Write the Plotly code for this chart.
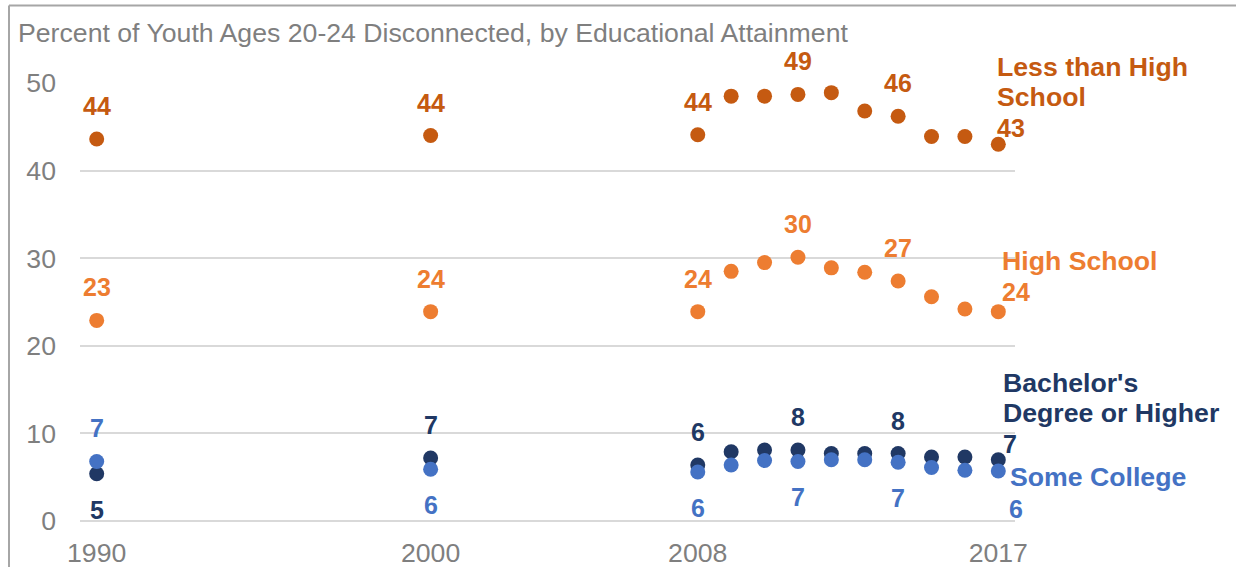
import plotly.graph_objects as go

# ---------------- data ----------------
years = [1990, 2000, 2008, 2009, 2010, 2011, 2012, 2013, 2014, 2015, 2016, 2017]

series_names = ["Less than High School", "High School",
                "Bachelor's Degree or Higher", "Some College"]

less_than_hs = [43.6, 44.0, 44.1, 48.5, 48.5, 48.7, 48.9, 46.8, 46.2, 43.9, 43.9, 43.0]
high_school = [22.9, 23.9, 23.9, 28.5, 29.5, 30.1, 28.9, 28.4, 27.4, 25.6, 24.2, 23.9]
bachelors = [5.4, 7.2, 6.4, 7.9, 8.1, 8.1, 7.7, 7.7, 7.7, 7.3, 7.3, 7.0]
some_college = [6.8, 5.9, 5.6, 6.4, 6.9, 6.8, 7.0, 7.0, 6.7, 6.1, 5.8, 5.7]

y_ticks = [0, 10, 20, 30, 40, 50]
x_ticks = [1990, 2000, 2008, 2017]

title_text = "Percent of Youth Ages 20-24 Disconnected, by Educational Attainment"

# ---------------- styles ----------------
colors = ["#C55A11", "#ED7D31", "#203864", "#4472C4"]
FONT = "Arial, Liberation Sans, sans-serif"
GRAY = "#7f7f7f"
BIG = 26.67

# label placement per series: {year: (xanchor, xshift, yshift)}
ABOVE = ("center", 0, 33)
BELOW = ("center", 0, -36)
label_places = [
    {1990: ABOVE, 2000: ABOVE, 2008: ABOVE, 2011: ABOVE, 2014: ABOVE, 2017: ("left", -3, 16)},
    {1990: ABOVE, 2000: ABOVE, 2008: ABOVE, 2011: ABOVE, 2014: ABOVE, 2017: ("left", 2, 20)},
    {1990: BELOW, 2000: ABOVE, 2008: ABOVE, 2011: ABOVE, 2014: ABOVE, 2017: ("left", 3, 16)},
    {1990: ABOVE, 2000: BELOW, 2008: BELOW, 2011: BELOW, 2014: BELOW, 2017: ("left", 9, -38)},
]
# series name lines: (text, paper y of line centre, xshift from 2017)
name_lines = [
    [("Less than High", 1.0365, -3), ("School", 0.968, -3)],
    [("High School", 0.5936, 2)],
    [("Bachelor's", 0.315, 3), ("Degree or Higher", 0.2466, 3)],
    [("Some College", 0.1005, 10)],
]

all_series = [less_than_hs, high_school, bachelors, some_college]

fig = go.Figure()
annotations = []
for name, vals, col, places in zip(series_names, all_series, colors, label_places):
    fig.add_trace(go.Scatter(
        x=years, y=vals, mode="markers", name=name,
        marker=dict(color=col, size=15), cliponaxis=False,
        showlegend=False, hoverinfo="x+y"))
    for yr, v in zip(years, vals):
        if yr in places:
            xa, xs, ys = places[yr]
            annotations.append(dict(
                x=yr, y=v, xref="x", yref="y",
                text=f"{v:.0f}", showarrow=False, xanchor=xa, yanchor="middle",
                xshift=xs, yshift=ys,
                font=dict(family=FONT, size=25, color=col, weight="bold")))

for lines, col in zip(name_lines, colors):
    for txt, yy, xs in lines:
        annotations.append(dict(
            x=years[-1], y=yy, xref="x", yref="paper", text=txt, showarrow=False,
            xanchor="left", yanchor="middle", align="left", xshift=xs,
            font=dict(family=FONT, size=BIG, color=col, weight="bold")))

# plot area geometry (pixels) used for frame placement
L, R, T, B, W, H = 80, 221, 83, 46, 1236, 567
pw, ph = W - L - R, H - T - B
fx = (9 - L) / pw
fy = 1 + (T - 5.5) / ph

fig.update_layout(
    width=W, height=H,
    margin=dict(l=L, r=R, t=T, b=B, pad=0, autoexpand=False),
    paper_bgcolor="white", plot_bgcolor="white",
    title=dict(text=title_text, xref="container", yref="container",
               x=18 / W, xanchor="left", y=1 - 33 / H, yanchor="middle",
               font=dict(family=FONT, size=BIG, color=GRAY)),
    xaxis=dict(range=[1989.5, 2017.5], tickvals=x_ticks, automargin=False,
               showgrid=False, zeroline=False, showline=False, ticks="",
               tickfont=dict(family=FONT, size=BIG, color=GRAY),
               ticklabelstandoff=13),
    yaxis=dict(range=[0, 50], tickvals=y_ticks, showgrid=True, automargin=False,
               gridcolor="#d9d9d9", gridwidth=1.5, zeroline=True,
               zerolinecolor="#d9d9d9", zerolinewidth=1.5, showline=False,
               ticks="", tickfont=dict(family=FONT, size=BIG, color=GRAY),
               ticklabelstandoff=23),
    annotations=annotations,
    shapes=[
        dict(type="line", xref="paper", yref="paper", x0=fx, x1=fx, y0=-0.3, y1=fy,
             line=dict(color="#a6a6a6", width=2)),
        dict(type="line", xref="paper", yref="paper", x0=fx, x1=1.3, y0=fy, y1=fy,
             line=dict(color="#a6a6a6", width=2)),
    ],
)

fig.write_html("out.html", config={"displayModeBar": False},
               post_script="document.body.style.margin='0px';")
